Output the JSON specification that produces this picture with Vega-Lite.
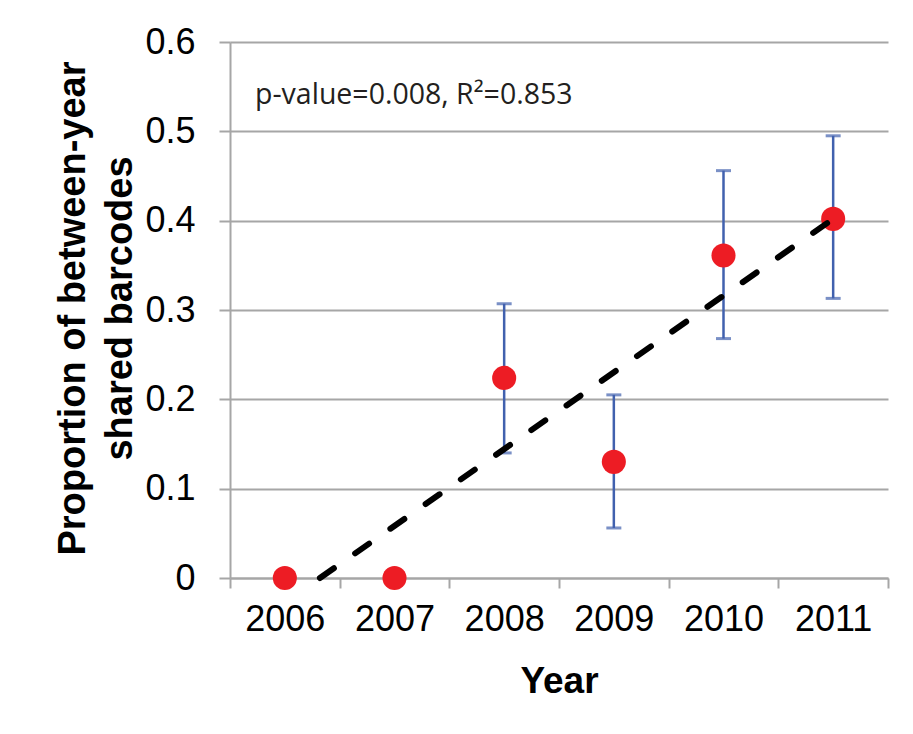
{
  "$schema": "https://vega.github.io/schema/vega-lite/v6.json",
  "width": 658,
  "height": 536,
  "autosize": "none",
  "padding": {"left": 230, "top": 42, "right": 25, "bottom": 156},
  "background": "white",
  "config": {
    "view": {"stroke": null},
    "font": "Liberation Sans"
  },
  "datasets": {
    "pts": [
      {"year": "2006", "prop": 0.0, "lo": null, "hi": null},
      {"year": "2007", "prop": 0.0, "lo": null, "hi": null},
      {"year": "2008", "prop": 0.224, "lo": 0.140, "hi": 0.307},
      {"year": "2009", "prop": 0.130, "lo": 0.056, "hi": 0.205},
      {"year": "2010", "prop": 0.361, "lo": 0.268, "hi": 0.456},
      {"year": "2011", "prop": 0.402, "lo": 0.313, "hi": 0.495}
    ],
    "trend": [
      {"t": 2006.32, "fit": 0.0},
      {"t": 2011.0, "fit": 0.402}
    ],
    "note": [
      {"label": "p-value=0.008, R²=0.853", "t": 2005.728, "v": 0.5305}
    ]
  },
  "layer": [
    {
      "data": {"name": "pts"},
      "encoding": {
        "x": {
          "field": "year",
          "type": "nominal",
          "scale": {"type": "band", "paddingInner": 0, "paddingOuter": 0},
          "axis": {
            "title": "Year",
            "titleFont": "Liberation Sans",
            "titleFontSize": 37,
            "titleFontWeight": "bold",
            "titleColor": "black",
            "titleBaseline": "alphabetic",
            "titleY": 114,
            "labelAngle": 0,
            "labelFontSize": 36,
            "labelColor": "black",
            "labelPadding": 14,
            "tickBand": "extent",
            "tickSize": 10,
            "tickWidth": 2,
            "tickColor": "#A6A6A6",
            "domainColor": "#A6A6A6",
            "domainWidth": 2,
            "grid": false
          }
        },
        "y": {
          "type": "quantitative",
          "scale": {"domain": [0, 0.6], "nice": false, "zero": true},
          "axis": {
            "title": ["Proportion of between-year", "shared barcodes"],
            "titleFont": "Liberation Sans",
            "titleFontSize": 38,
            "titleFontWeight": "bold",
            "titleColor": "black",
            "titleLineHeight": 47,
            "titleBaseline": "alphabetic",
            "titleAlign": "center",
            "titleAngle": -90,
            "titleX": -146,
            "titleY": 266,
            "values": [0, 0.1, 0.2, 0.3, 0.4, 0.5, 0.6],
            "format": ".1~f",
            "labelFontSize": 36,
            "labelColor": "black",
            "labelPadding": 24,
            "tickSize": 11,
            "tickWidth": 2,
            "tickColor": "#A6A6A6",
            "domainColor": "#A6A6A6",
            "domainWidth": 2,
            "grid": true,
            "gridColor": "#A6A6A6",
            "gridWidth": 2
          }
        }
      },
      "layer": [
        {
          "mark": {"type": "rule", "color": "#4161AE", "strokeWidth": 2.5},
          "encoding": {"y": {"field": "lo"}, "y2": {"field": "hi"}}
        },
        {
          "mark": {"type": "tick", "color": "#4161AE", "size": 15, "thickness": 3},
          "encoding": {"y": {"field": "lo"}}
        },
        {
          "mark": {"type": "tick", "color": "#4161AE", "size": 15, "thickness": 3},
          "encoding": {"y": {"field": "hi"}}
        },
        {
          "mark": {"type": "point", "filled": true, "shape": "circle", "size": 580, "color": "#ED1C24", "opacity": 1},
          "encoding": {"y": {"field": "prop"}}
        }
      ]
    },
    {
      "data": {"name": "trend"},
      "encoding": {
        "x": {
          "field": "t",
          "type": "quantitative",
          "scale": {"domain": [2005.5, 2011.5], "nice": false, "zero": false},
          "axis": null
        }
      },
      "layer": [
        {
          "mark": {"type": "line", "color": "black", "strokeWidth": 6, "strokeDash": [17, 26], "strokeCap": "round"},
          "encoding": {"y": {"field": "fit", "type": "quantitative"}}
        }
      ]
    },
    {
      "data": {"name": "note"},
      "mark": {"type": "text", "align": "left", "baseline": "alphabetic", "font": "Open Sans", "fontSize": 28.5, "color": "#231F20"},
      "encoding": {
        "text": {"field": "label"},
        "x": {"field": "t", "type": "quantitative", "scale": {"domain": [2005.5, 2011.5], "nice": false, "zero": false}, "axis": null},
        "y": {"field": "v", "type": "quantitative"}
      }
    }
  ],
  "resolve": {"scale": {"x": "independent"}}
}
